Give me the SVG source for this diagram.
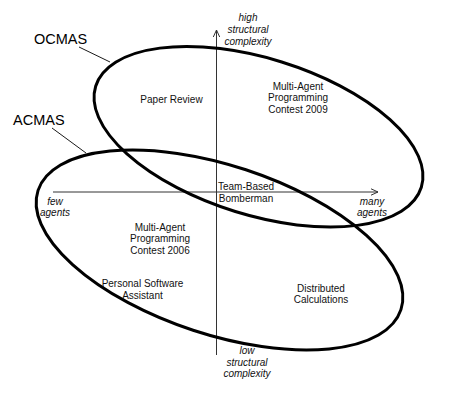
<svg xmlns="http://www.w3.org/2000/svg" width="456" height="401" viewBox="0 0 456 401">
<style>
.t{font-family:"Liberation Sans",Arial,sans-serif;font-size:10px;fill:#111;text-anchor:middle}
.i{font-style:italic}
.big{font-family:"Liberation Sans",Arial,sans-serif;font-size:14.5px;fill:#000}
.ax{stroke:#333;stroke-width:1;fill:none}
.el{stroke:#000;stroke-width:3;fill:none}
.ld{stroke:#000;stroke-width:0.9;fill:none}
</style>
<defs>
<marker id="arr" markerWidth="10" markerHeight="10" refX="7" refY="4" orient="auto" markerUnits="userSpaceOnUse">
<path d="M0,0.8 L7,4 L0,7.2" fill="none" stroke="#333" stroke-width="1"/>
</marker>
</defs>
<rect width="456" height="401" fill="#fff"/>
<g id="connectors">
<line class="ax" x1="216.5" y1="355" x2="216.5" y2="30" marker-end="url(#arr)"/>
<line class="ax" x1="53" y1="192" x2="378" y2="192" marker-end="url(#arr)"/>
<line class="ld" x1="79" y1="47" x2="110" y2="62"/>
<line class="ld" x1="52" y1="128" x2="86" y2="153"/>
</g>
<g id="ocmas">
<ellipse class="el" cx="258.5" cy="136.75" rx="170.5" ry="78.3" transform="rotate(17.25 258.5 136.75)"/>
<text class="big" x="34" y="44">OCMAS</text>
</g>
<g id="acmas">
<ellipse class="el" cx="219.5" cy="250" rx="191" ry="84.5" transform="rotate(18.2 219.5 250)"/>
<text class="big" x="13" y="125">ACMAS</text>
</g>
<g id="axis-labels">
<text class="t i" x="248" y="21">high</text>
<text class="t i" x="248" y="33">structural</text>
<text class="t i" x="248" y="45">complexity</text>
<text class="t i" x="247" y="354">low</text>
<text class="t i" x="247" y="366">structural</text>
<text class="t i" x="247" y="377">complexity</text>
<text class="t i" x="55" y="205">few</text>
<text class="t i" x="55" y="216">agents</text>
<text class="t i" x="372" y="205">many</text>
<text class="t i" x="372" y="216">agents</text>
</g>
<g id="paper-review"><text class="t" x="171.5" y="103">Paper Review</text></g>
<g id="mapc2009">
<text class="t" x="298" y="89.5">Multi-Agent</text>
<text class="t" x="298" y="101">Programming</text>
<text class="t" x="298" y="112.5">Contest 2009</text>
</g>
<g id="bomberman">
<text class="t" x="246" y="189.5">Team-Based</text>
<text class="t" x="246" y="202">Bomberman</text>
</g>
<g id="mapc2006">
<text class="t" x="160" y="230.5">Multi-Agent</text>
<text class="t" x="160" y="242">Programming</text>
<text class="t" x="160" y="253.5">Contest 2006</text>
</g>
<g id="psa">
<text class="t" x="142.5" y="287">Personal Software</text>
<text class="t" x="142.5" y="298.5">Assistant</text>
</g>
<g id="distributed">
<text class="t" x="321" y="292">Distributed</text>
<text class="t" x="321" y="303">Calculations</text>
</g>
</svg>
